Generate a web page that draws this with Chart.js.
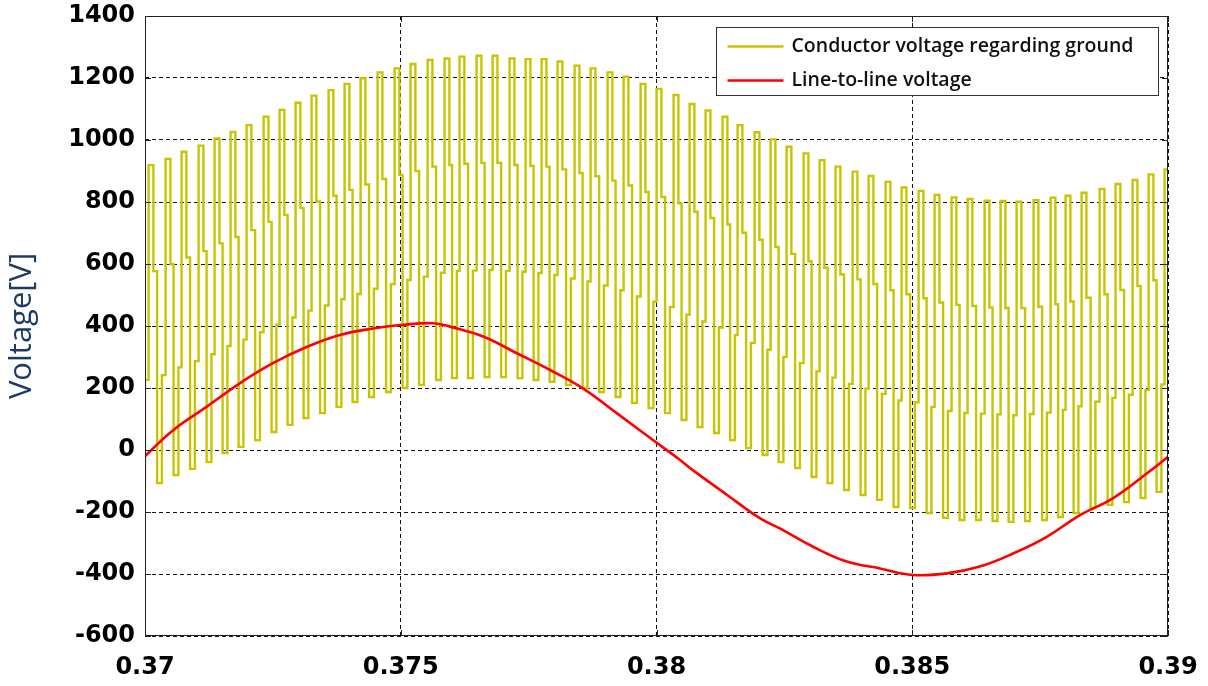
<!DOCTYPE html>
<html>
<head>
<meta charset="utf-8">
<script src="https://cdn.jsdelivr.net/npm/chart.js@4.4.1/dist/chart.umd.min.js"></script>
<style>
  html, body { margin: 0; padding: 0; background: #fff; }
  #wrap { width: 1208px; height: 686px; }
</style>
</head>
<body>
<div id="wrap"><canvas id="voltageChart" width="1208" height="686"></canvas></div>
<script>
// Line-to-line voltage (time [s], voltage [V])
const lineTimes = [0.37, 0.37055, 0.37121, 0.37186, 0.3725, 0.37317, 0.37381, 0.37446, 0.37499,
    0.37563, 0.37596, 0.37661, 0.37727, 0.37792, 0.37856, 0.37923, 0.37993, 0.38046, 0.38071,
    0.38138, 0.38202, 0.38241, 0.38306, 0.38372, 0.38437, 0.38501, 0.38568, 0.38632, 0.38697,
    0.38763, 0.38828, 0.38892, 0.38959, 0.39];
const lineVoltage = [-20, 64, 140, 216, 280, 333, 371, 392, 403,
    409, 398, 366, 312, 258, 199, 118, 32, -32, -65,
    -145, -220, -253, -312, -360, -382, -403, -398, -376, -334,
    -280, -210, -156, -75, -22];

// Conductor voltage regarding ground: centre time of each upper pulse
const pulseTimes = [0.370117, 0.370450, 0.370762, 0.371095, 0.371408, 0.371720, 0.372033, 0.372366,
    0.372678, 0.372991, 0.373304, 0.373636, 0.373949, 0.374262, 0.374594, 0.374927, 0.375239,
    0.375572, 0.375904, 0.376197, 0.376530, 0.376843, 0.377175, 0.377488, 0.377801, 0.378113,
    0.378446, 0.378759, 0.379091, 0.379404, 0.379736, 0.380049, 0.380381, 0.380694, 0.381007,
    0.381339, 0.381632, 0.381965, 0.382278, 0.382590, 0.382923, 0.383236, 0.383548, 0.383881,
    0.384194, 0.384526, 0.384839, 0.385171, 0.385484, 0.385816, 0.386129, 0.386461, 0.386774,
    0.387087, 0.387419, 0.387752, 0.388045, 0.388358, 0.388710, 0.389022, 0.389355, 0.389668,
    0.389980];
// peak level of each upper pulse
const topLevels = [919, 939, 962, 982, 1005, 1026, 1048, 1075, 1097, 1120, 1143, 1161, 1181, 1199,
    1218, 1231, 1245, 1258, 1263, 1269, 1272, 1272, 1263, 1261, 1261, 1253, 1240, 1231, 1218,
    1204, 1181, 1165, 1145, 1116, 1095, 1075, 1048, 1025, 1002, 978, 957, 935, 914, 898, 884,
    865, 847, 836, 823, 815, 810, 804, 803, 801, 806, 814, 820, 830, 842, 858, 871, 889, 905];
// floor level of each lower pulse (between two upper pulses)
const bottomLevels = [-107, -81, -61, -39, -10, 10, 32, 58, 81, 103, 119, 139, 155, 171, 187, 200,
    210, 226, 232, 232, 235, 235, 232, 226, 220, 210, 200, 187, 171, 152, 135, 119,
    97, 74, 55, 32, 6, -16, -39, -58, -87, -107, -129, -145, -161, -184, -187, -203,
    -219, -226, -226, -229, -232, -229, -226, -216, -203, -187, -177, -168, -155, -135];
const startLevel = -120;

const yTicks = { min: -600, max: 1400, step: 200 };
const xTicks = { min: 0.37, max: 0.39, step: 0.005 };

const pulseHalfWidth = 0.000047;

// Build the switching waveform: top pulse, intermediate step, bottom pulse, intermediate step
function buildConductorPoints() {
    const pts = [{ x: xTicks.min, y: startLevel }];
    pts.push({ x: xTicks.min, y: startLevel + (topLevels[0] - startLevel) / 3 });
    for (let k = 0; k < pulseTimes.length; k++) {
        const t = pulseTimes[k];
        const top = topLevels[k];
        pts.push({ x: t - pulseHalfWidth, y: top });
        if (k < bottomLevels.length) {
            const bot = bottomLevels[k];
            const mid = (t + pulseTimes[k + 1]) / 2;
            pts.push({ x: t + pulseHalfWidth, y: top - (top - bot) / 3 });
            pts.push({ x: mid - pulseHalfWidth, y: bot });
            pts.push({ x: mid + pulseHalfWidth, y: bot + (topLevels[k + 1] - bot) / 3 });
        } else {
            pts.push({ x: t + pulseHalfWidth, y: top - (top - bottomLevels[k - 1]) / 3 });
        }
    }
    return pts;
}

const legendItems = [
    { label: 'Conductor voltage regarding ground', color: '#c8c400' },
    { label: 'Line-to-line voltage', color: '#ff0000' }
];

// Solid frame, inner tick marks and the boxed legend
const frameAndLegend = {
    id: 'frameAndLegend',
    afterDraw(chart) {
        const { ctx, chartArea: a, scales } = chart;
        ctx.save();
        ctx.setLineDash([]);
        ctx.strokeStyle = '#222';
        ctx.lineWidth = 1;
        ctx.strokeRect(a.left + 0.5, a.top + 0.5, a.width - 1, a.height - 1);

        const tl = 6;
        ctx.beginPath();
        scales.x.ticks.forEach(t => {
            const px = Math.round(scales.x.getPixelForValue(t.value)) + 0.5;
            ctx.moveTo(px, a.bottom); ctx.lineTo(px, a.bottom - tl);
            ctx.moveTo(px, a.top); ctx.lineTo(px, a.top + tl);
        });
        scales.y.ticks.forEach(t => {
            const py = Math.round(scales.y.getPixelForValue(t.value)) + 0.5;
            ctx.moveTo(a.left, py); ctx.lineTo(a.left + tl, py);
            ctx.moveTo(a.right, py); ctx.lineTo(a.right - tl, py);
        });
        ctx.stroke();

        // legend box
        const boxW = 442, boxH = 68;
        const bx = a.right - 10 - boxW + 0.5;
        const by = a.top + 11 + 0.5;
        ctx.fillStyle = '#fff';
        ctx.fillRect(bx, by, boxW, boxH);
        ctx.strokeStyle = '#333';
        ctx.strokeRect(bx, by, boxW, boxH);
        ctx.font = '600 19.5px "Open Sans"';
        ctx.textBaseline = 'middle';
        ctx.textAlign = 'left';
        legendItems.forEach((item, i) => {
            const ly = by + 19 + i * 34;
            ctx.strokeStyle = item.color;
            ctx.lineWidth = 2.5;
            ctx.beginPath();
            ctx.moveTo(bx + 11, ly);
            ctx.lineTo(bx + 67, ly);
            ctx.stroke();
            ctx.fillStyle = '#111';
            ctx.fillText(item.label, bx + 75, ly);
        });
        ctx.restore();
    }
};

const ctx = document.getElementById('voltageChart').getContext('2d');
const voltageChart = new Chart(ctx, {
    type: 'line',
    data: {
        datasets: [
            {
                label: legendItems[1].label,
                data: lineTimes.map((t, i) => ({ x: t, y: lineVoltage[i] })),
                borderColor: legendItems[1].color,
                borderWidth: 2.6,
                pointRadius: 0,
                tension: 0.4
            },
            {
                label: legendItems[0].label,
                data: buildConductorPoints(),
                borderColor: legendItems[0].color,
                borderWidth: 2.4,
                pointRadius: 0,
                stepped: true
            }
        ]
    },
    options: {
        responsive: false,
        animation: false,
        layout: { padding: { top: 16, right: 40, left: 0, bottom: 0 } },
        plugins: {
            legend: { display: false },
            tooltip: { enabled: false }
        },
        scales: {
            x: {
                type: 'linear',
                min: xTicks.min,
                max: xTicks.max,
                afterFit(scale) {
                    scale.height = 50;
                    scale.paddingLeft = 0;
                    scale.paddingRight = 0;
                },
                border: { display: false, dash: [4, 3] },
                grid: { color: '#111', lineWidth: 1, drawTicks: false },
                ticks: {
                    stepSize: xTicks.step,
                    padding: 17,
                    color: '#000',
                    font: { family: '"DejaVu Sans"', size: 24, weight: 'bold' },
                    callback: v => parseFloat(v.toFixed(4)).toString()
                }
            },
            y: {
                min: yTicks.min,
                max: yTicks.max,
                afterFit(scale) {
                    scale.width = 145;
                    scale.paddingTop = 0;
                    scale.paddingBottom = 0;
                },
                border: { display: false, dash: [4, 3] },
                grid: { color: '#111', lineWidth: 1, drawTicks: false },
                ticks: {
                    stepSize: yTicks.step,
                    padding: 10,
                    color: '#000',
                    font: { family: '"DejaVu Sans"', size: 24, weight: 'bold' },
                    callback: v => String(v)
                },
                title: {
                    display: true,
                    text: 'Voltage[V]',
                    color: '#1e3a66',
                    padding: { top: 4, bottom: 0 },
                    font: { family: '"Open Sans"', size: 31, weight: 'normal' }
                }
            }
        }
    },
    plugins: [frameAndLegend]
});
</script>
</body>
</html>
